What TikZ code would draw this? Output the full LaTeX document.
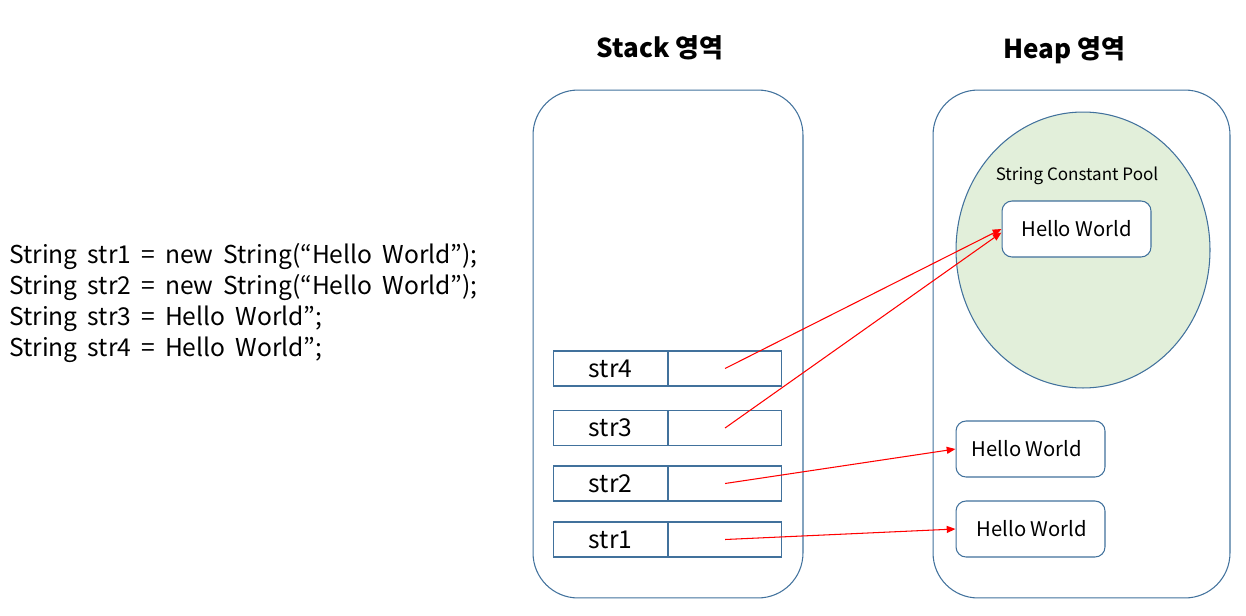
\documentclass[tikz,border=0pt]{standalone}
\usepackage{fontspec}
\setmainfont{Noto Sans CJK KR}
\usetikzlibrary{arrows.meta, positioning, shapes.geometric}
\definecolor{edgeblue}{HTML}{41719C}
\definecolor{poolgreen}{HTML}{E2EFDA}
\newcommand{\codefont}{\fontsize{14}{17.6}\selectfont\spaceskip=0.41em\relax}
\tikzstyle{memory}=[draw=edgeblue, line width=0.6pt, rounded corners=0.9cm, minimum height=10.16cm]
\tikzstyle{cell}=[draw=edgeblue, line width=0.6pt, minimum width=2.27cm, minimum height=0.7cm, inner sep=0pt, font=\fontsize{14}{16}\selectfont]
\tikzstyle{strbox}=[draw=edgeblue, fill=white, line width=0.6pt, rounded corners=0.2cm, minimum width=2.98cm, minimum height=1.12cm, font=\fontsize{11.5}{13}\selectfont]
\tikzstyle{title}=[font=\bfseries\fontsize{14.8}{17}\selectfont]
\tikzstyle{ref}=[red, line width=0.6pt, -{Triangle[length=5pt,width=4pt]}]

\begin{document}
\begin{tikzpicture}[x=0.02cm, y=-0.02cm]
  \useasboundingbox (0,0) rectangle (1246,615);
  % titles
  \node[title] (stacktitle) at (660,48) {Stack 영역};
  \node[title] (heaptitle) at (1064,50) {Heap 영역};
  % memory areas
  \node[memory, minimum width=5.4cm] (stack) at (668,344) {};
  \node[memory, minimum width=5.94cm] (heap) at (1081.5,344) {};
  \node[ellipse, draw=edgeblue, fill=poolgreen, line width=0.6pt, minimum width=5.08cm, minimum height=5.52cm] (pool) at (1083,250) {};
  \node[font=\fontsize{9.7}{11}\selectfont] (pooltitle) at (1077,176) {String Constant Pool};
  % strings
  \node[strbox] (hw0) at (1076.5,229) {Hello World};
  \node[strbox] (hw2) at (1030.5,449) {Hello World\hspace*{0.15cm}};
  \node[strbox] (hw1) at (1030.5,529) {\hspace*{0.05cm}Hello World};
  % stack variables
  \node[cell] (s4) at (610.5,368.5) {str4};
  \node[cell, right=0pt of s4] (v4) {};
  \node[cell] (s3) at (610.5,428) {str3};
  \node[cell, right=0pt of s3] (v3) {};
  \node[cell] (s2) at (610.5,483.5) {str2};
  \node[cell, right=0pt of s2] (v2) {};
  \node[cell] (s1) at (610.5,539.5) {str1};
  \node[cell, right=0pt of s1] (v1) {};
  % references
  \draw[ref] (v4.center) -- (hw0.west);
  \draw[ref] (v3.center) -- ([yshift=-2pt]hw0.west);
  \draw[ref] (v2.center) -- (hw2.west);
  \draw[ref] (v1.center) -- (hw1.west);
  % code
  \node[anchor=west, align=left, font=\codefont] (code) at (3,303) {String str1 = new String(“Hello World”);\\
String str2 = new String(“Hello World”);\\
String str3 = Hello World”;\\
String str4 = Hello World”;};
\end{tikzpicture}
\end{document}
